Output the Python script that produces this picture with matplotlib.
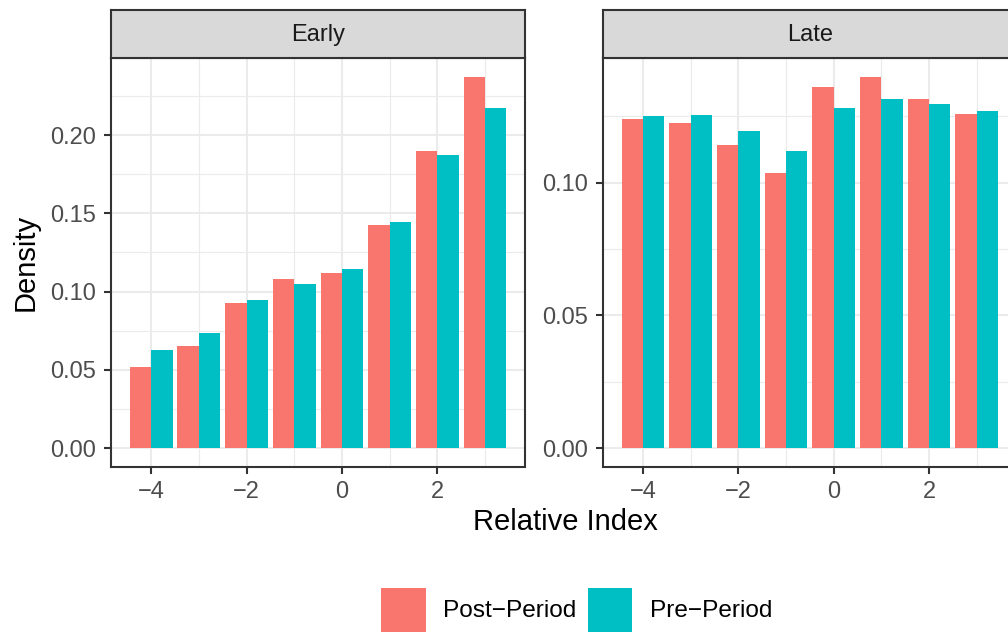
import matplotlib.pyplot as plt
from matplotlib.patches import Patch
from matplotlib.ticker import MultipleLocator, FormatStrFormatter

plt.rcParams['font.family'] = ['Liberation Sans', 'DejaVu Sans']

# values
rel_index = [-4, -3, -2, -1, 0, 1, 2, 3]
early_post = [0.0517, 0.0650, 0.0924, 0.1083, 0.1121, 0.1426, 0.1896, 0.2373]
early_pre = [0.0625, 0.0733, 0.0943, 0.1051, 0.1146, 0.1445, 0.1871, 0.2176]
late_post = [0.1239, 0.1227, 0.1141, 0.1036, 0.1359, 0.1400, 0.1314, 0.1261]
late_pre = [0.1250, 0.1254, 0.1194, 0.1119, 0.1280, 0.1317, 0.1295, 0.1272]
panels = ['Early', 'Late']
groups = ['Post\u2212Period', 'Pre\u2212Period']
colors = ['#F8766D', '#00BFC4']

fig = plt.figure(figsize=(10.08, 6.35), dpi=100)

ax_w, ax_h, ax_b = 0.4110, 0.6436, 0.2650
lefts = [0.1101, 0.5979]
ylims = [(-0.0119, 0.2492), (-0.007, 0.147)]
data = [(early_post, early_pre), (late_post, late_pre)]

bw = 0.45
for i, name in enumerate(panels):
    ax = fig.add_axes([lefts[i], ax_b, ax_w, ax_h])
    post, pre = data[i]
    x = list(rel_index)
    ax.bar([v - bw / 2 for v in x], post, width=bw, color=colors[0], zorder=2)
    ax.bar([v + bw / 2 for v in x], pre, width=bw, color=colors[1], zorder=2)
    ax.set_xlim(-4.845, 3.845)
    ax.set_ylim(*ylims[i])
    ax.xaxis.set_major_locator(MultipleLocator(2))
    ax.xaxis.set_minor_locator(MultipleLocator(1))
    ax.yaxis.set_major_locator(MultipleLocator(0.05))
    ax.yaxis.set_minor_locator(MultipleLocator(0.025))
    ax.yaxis.set_major_formatter(FormatStrFormatter('%.2f'))
    ax.grid(which='major', color='#EBEBEB', lw=1.5)
    ax.grid(which='minor', color='#EBEBEB', lw=0.8)
    ax.set_axisbelow(True)
    for s in ax.spines.values():
        s.set_color('#333333')
        s.set_linewidth(1.5)
    ax.tick_params(which='major', length=5, width=1.5, color='#333333',
                   labelcolor='#4D4D4D', labelsize=17, pad=5.5)
    ax.tick_params(which='minor', length=0)

    # facet strip
    st = fig.add_axes([lefts[i], 0.9087, ax_w, 0.0756])
    st.set_facecolor('#D9D9D9')
    st.set_xticks([])
    st.set_yticks([])
    for s in st.spines.values():
        s.set_color('#333333')
        s.set_linewidth(1.5)
    st.text(0.5, 0.48, name, transform=st.transAxes, ha='center', va='center',
            fontsize=17, color='#1A1A1A')

fig.text(0.025, ax_b + ax_h / 2, 'Density', rotation=90, ha='center',
         va='center', fontsize=21)
fig.text(565 / 1008, 1 - 522 / 635, 'Relative Index', ha='center',
         va='center', fontsize=21)

handles = [Patch(facecolor=c, edgecolor='none') for c in colors]
fig.legend(handles, groups, loc='center', bbox_to_anchor=(0.572, 0.0394),
           ncol=2, frameon=False, fontsize=17.6, handlelength=1.84,
           handleheight=2.45, handletextpad=0.72, columnspacing=0.45,
           borderaxespad=0, borderpad=0)

fig.savefig('out.png', dpi=100)
